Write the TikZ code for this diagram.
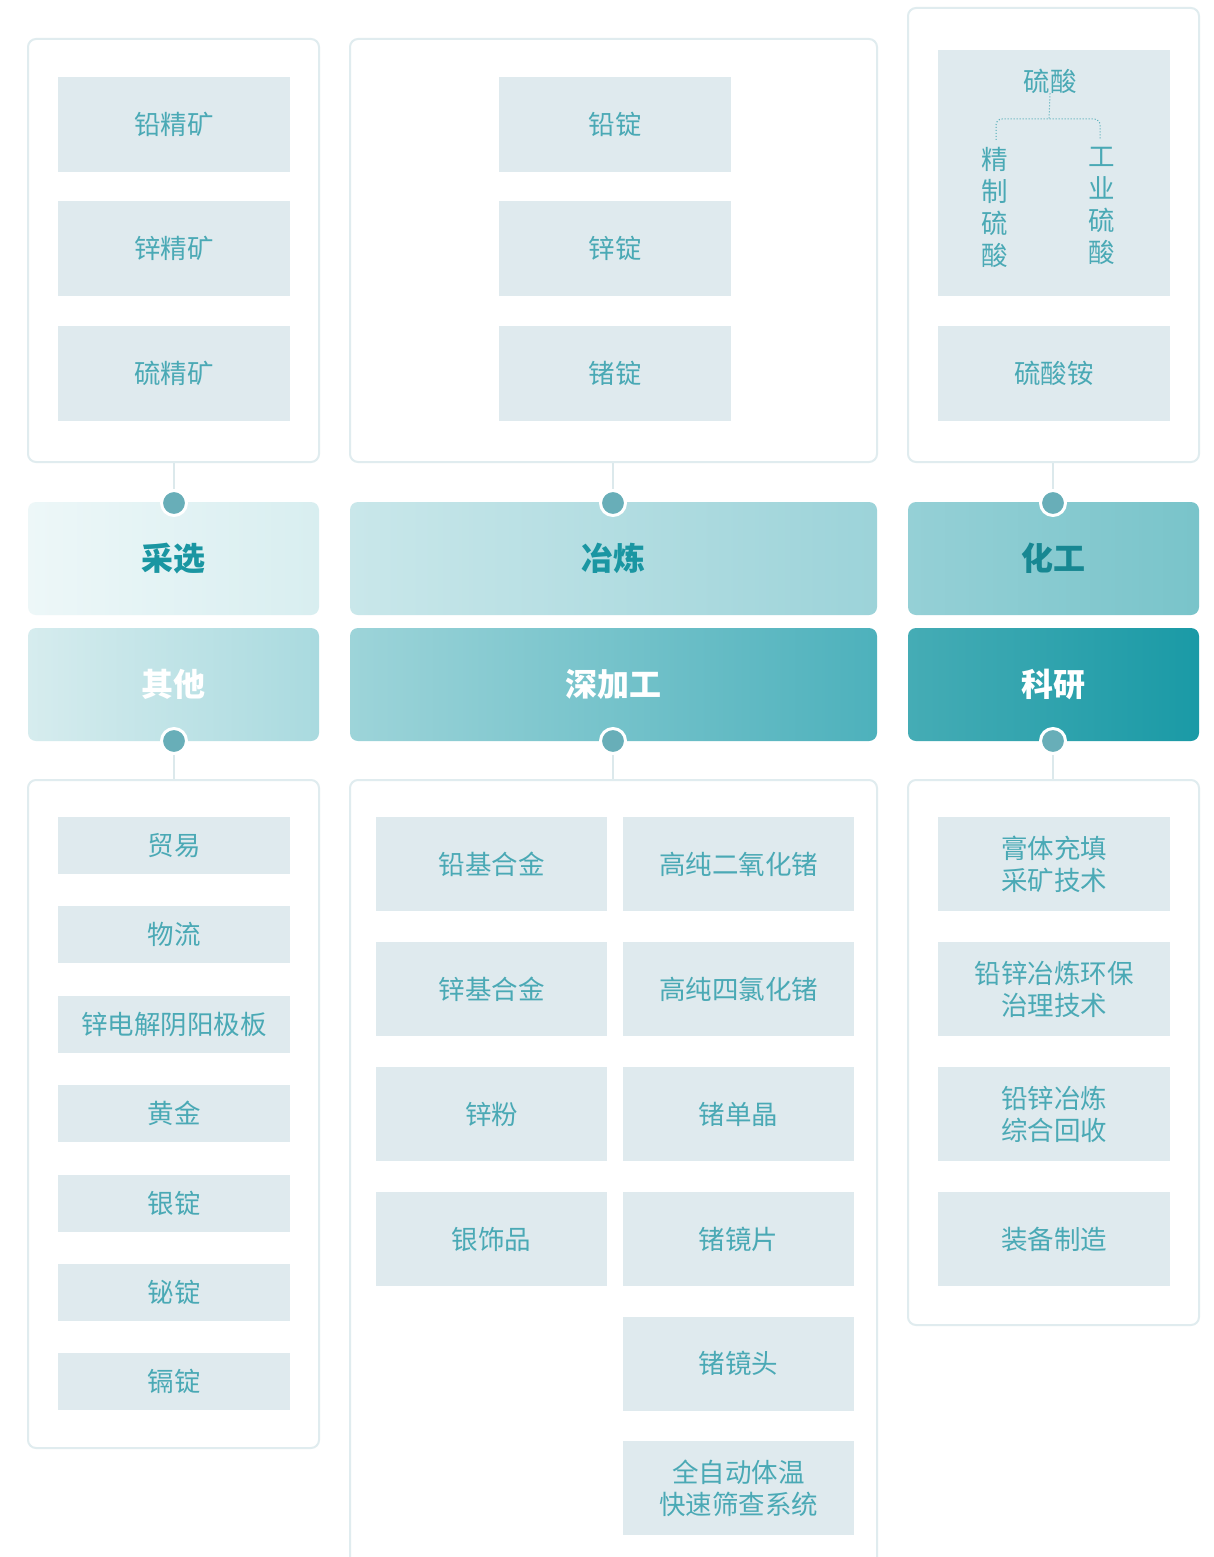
\documentclass[tikz,border=0pt]{standalone}
\usepackage{fontspec}
\newfontfamily\cjk{Noto Sans CJK SC}
\definecolor{panelc}{HTML}{E0ECEF}
\definecolor{itemc}{HTML}{DFEAEE}
\definecolor{txtc}{HTML}{4AA9B5}
\definecolor{dotc}{HTML}{68AEB8}
\definecolor{linec}{HTML}{DCE9EC}
\definecolor{hdrtxt}{HTML}{1A96A2}
\definecolor{hA1}{HTML}{EDF7F8}
\definecolor{hA2}{HTML}{D8EEF0}
\definecolor{hB1}{HTML}{C9E7EA}
\definecolor{hB2}{HTML}{9CD3D9}
\definecolor{hC1}{HTML}{95D0D6}
\definecolor{hC2}{HTML}{79C4CA}
\definecolor{kA1}{HTML}{D6ECEE}
\definecolor{kA2}{HTML}{A9DADF}
\definecolor{kB1}{HTML}{9DD4D9}
\definecolor{kB2}{HTML}{4DB1BC}
\definecolor{kC1}{HTML}{45ACB5}
\definecolor{kC2}{HTML}{1A9AA6}
\begin{document}
\begin{tikzpicture}[x=1pt,y=-1pt,
  panel/.style={draw=panelc, line width=2pt, rounded corners=8pt, fill=white, inner sep=0pt},
  itembox/.style={fill=itemc, inner sep=0pt, minimum width=232pt, text=txtc, font=\cjk\fontsize{26.5}{32}\selectfont, align=center},
  hdr/.style={rounded corners=8pt, inner sep=0pt, minimum height=113pt, font=\cjk\bfseries\fontsize{32}{36}\selectfont},
  dot/.style={circle, fill=dotc, draw=white, line width=3pt, minimum size=25pt, inner sep=0pt},
  link/.style={draw=linec, line width=2pt},
  vtext/.style={inner sep=0pt, text=txtc, font=\cjk\fontsize{26.5}{32}\selectfont, align=center}
]
\clip (0,0) rectangle (1214,1557);
\fill[white] (0,0) rectangle (1214,1557);

% top panels
\node[panel, minimum width=291pt, minimum height=423pt] (pA) at (173.5,250.5) {};
\node[panel, minimum width=527pt, minimum height=423pt] (pB) at (613.5,250.5) {};
\node[panel, minimum width=291pt, minimum height=454pt] (pC) at (1053.5,235) {};

% bottom panels
\node[panel, minimum width=291pt, minimum height=668pt] (qA) at (173.5,1114) {};
\node[panel, minimum width=527pt, minimum height=820pt] (qB) at (613.5,1190) {};
\node[panel, minimum width=291pt, minimum height=545pt] (qC) at (1053.5,1052.5) {};

% headers row 1
\node[hdr, minimum width=291pt, left color=hA1, right color=hA2, text=hdrtxt] (hA) at (173.5,558.5) {采选};
\node[hdr, minimum width=527pt, left color=hB1, right color=hB2, text=hdrtxt] (hB) at (613.5,558.5) {冶炼};
\node[hdr, minimum width=291pt, left color=hC1, right color=hC2, text=hdrtxt!90!black] (hC) at (1053.5,558.5) {化工};
% headers row 2
\node[hdr, minimum width=291pt, left color=kA1, right color=kA2, text=white] (kA) at (173.5,684.5) {其他};
\node[hdr, minimum width=527pt, left color=kB1, right color=kB2, text=white] (kB) at (613.5,684.5) {深加工};
\node[hdr, minimum width=291pt, left color=kC1, right color=kC2, text=white] (kC) at (1053.5,684.5) {科研};

% connectors and dots
\node[dot] (dA) at (174,503) {};
\node[dot] (dB) at (613,503) {};
\node[dot] (dC) at (1053,503) {};
\node[dot] (eA) at (174,741) {};
\node[dot] (eB) at (613,741) {};
\node[dot] (eC) at (1053,741) {};
\path[link] (pA.south -| dA) -- (dA.north);
\path[link] (pB.south -| dB) -- (dB.north);
\path[link] (pC.south -| dC) -- (dC.north);
\path[link] (eA.south) -- (qA.north -| eA);
\path[link] (eB.south) -- (qB.north -| eB);
\path[link] (eC.south) -- (qC.north -| eC);

% top items
\node[itembox, minimum height=95pt] (a1) at (174,124.5) {铅精矿};
\node[itembox, minimum height=95pt] (a2) at (174,248.5) {锌精矿};
\node[itembox, minimum height=95pt] (a3) at (174,373.5) {硫精矿};
\node[itembox, minimum height=95pt] (b1) at (615,124.5) {铅锭};
\node[itembox, minimum height=95pt] (b2) at (615,248.5) {锌锭};
\node[itembox, minimum height=95pt] (b3) at (615,373.5) {锗锭};
\node[itembox, minimum height=246pt] (c1) at (1054,173) {};
\node[itembox, minimum height=95pt] (c2) at (1054,373.5) {硫酸铵};

% sulfuric acid tree
\node[vtext] (acid) at (1050,81) {硫酸};
\node[vtext, anchor=north] (acidL) at (995,147) {精\\制\\硫\\酸};
\node[vtext, anchor=north] (acidR) at (1102,147) {工\\业\\硫\\酸};
\coordinate (jn) at (1049,119);
\coordinate (jL) at (996,140);
\coordinate (jR) at (1100,140);
\draw[txtc, dotted, line width=1pt] (acid.south) -- (jn);
\draw[txtc, dotted, line width=1pt, rounded corners=6pt] (jL) |- (jn) -| (jR);

% bottom left items
\node[itembox, minimum height=57pt] (o1) at (174,845.5) {贸易};
\node[itembox, minimum height=57pt] (o2) at (174,934.5) {物流};
\node[itembox, minimum height=57pt] (o3) at (174,1024.5) {锌电解阴阳极板};
\node[itembox, minimum height=57pt] (o4) at (174,1113.5) {黄金};
\node[itembox, minimum height=57pt] (o5) at (174,1203.5) {银锭};
\node[itembox, minimum height=57pt] (o6) at (174,1292.5) {铋锭};
\node[itembox, minimum height=57pt] (o7) at (174,1381.5) {镉锭};

% bottom middle items
\node[itembox, minimum height=94pt, minimum width=231pt] (m1) at (491.5,864) {铅基合金};
\node[itembox, minimum height=94pt, minimum width=231pt] (m2) at (491.5,989) {锌基合金};
\node[itembox, minimum height=94pt, minimum width=231pt] (m3) at (491.5,1114) {锌粉};
\node[itembox, minimum height=94pt, minimum width=231pt] (m4) at (491.5,1239) {银饰品};
\node[itembox, minimum height=94pt, minimum width=231pt] (n1) at (738.5,864) {高纯二氧化锗};
\node[itembox, minimum height=94pt, minimum width=231pt] (n2) at (738.5,989) {高纯四氯化锗};
\node[itembox, minimum height=94pt, minimum width=231pt] (n3) at (738.5,1114) {锗单晶};
\node[itembox, minimum height=94pt, minimum width=231pt] (n4) at (738.5,1239) {锗镜片};
\node[itembox, minimum height=94pt, minimum width=231pt] (n5) at (738.5,1363.5) {锗镜头};
\node[itembox, minimum height=94pt, minimum width=231pt] (n6) at (738.5,1488) {全自动体温\\快速筛查系统};

% bottom right items
\node[itembox, minimum height=94pt] (r1) at (1054,864) {膏体充填\\采矿技术};
\node[itembox, minimum height=94pt] (r2) at (1054,989) {铅锌冶炼环保\\治理技术};
\node[itembox, minimum height=94pt] (r3) at (1054,1114) {铅锌冶炼\\综合回收};
\node[itembox, minimum height=94pt] (r4) at (1054,1239) {装备制造};
\end{tikzpicture}
\end{document}
